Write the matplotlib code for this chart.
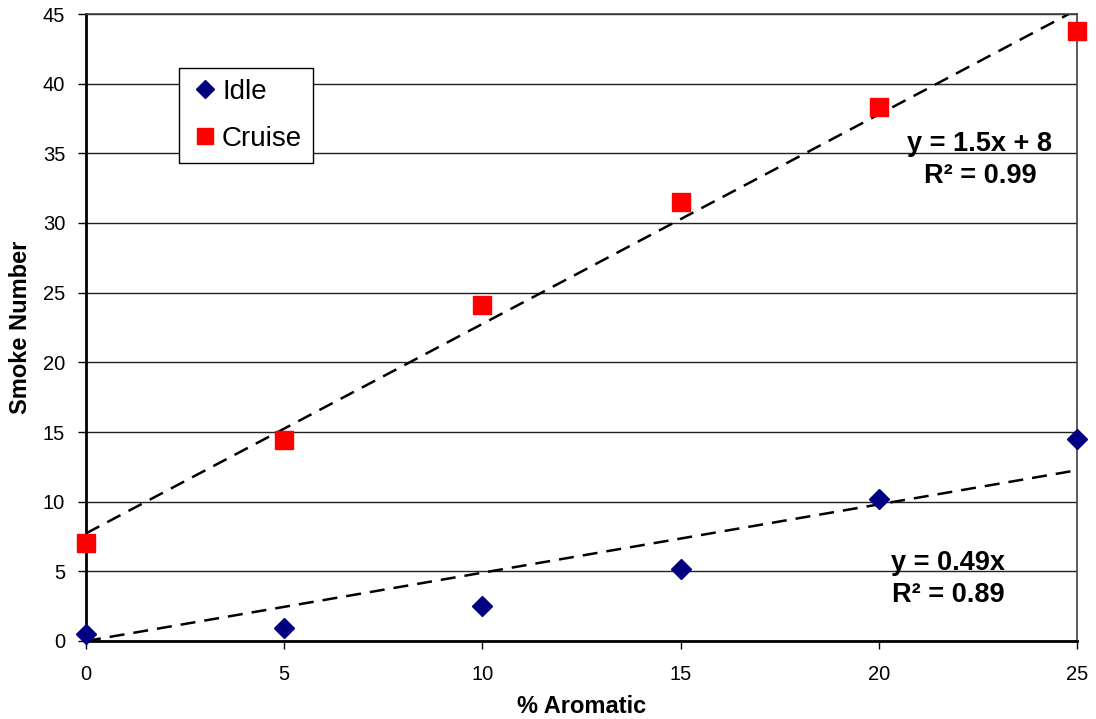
import numpy as np
import matplotlib.pyplot as plt

plt.rcParams['font.family'] = ['Liberation Sans', 'DejaVu Sans']

aromatic = [0, 5, 10, 15, 20, 25]
idle = [0.5, 0.9, 2.5, 5.2, 10.2, 14.5]
cruise = [7.0, 14.4, 24.1, 31.5, 38.3, 43.8]
x_ticks = [0, 5, 10, 15, 20, 25]
y_ticks = [0, 5, 10, 15, 20, 25, 30, 35, 40, 45]

x = np.array(aromatic, dtype=float)
# linear trendlines (cruise with intercept, idle through origin)
c_slope, c_int = np.polyfit(x, cruise, 1)
i_slope = np.sum(x * np.array(idle)) / np.sum(x * x)

fig = plt.figure(figsize=(10.96, 7.19), dpi=100)
ax = fig.add_axes([86 / 1096, 1 - 641 / 719, 991 / 1096, 627 / 719])

ax.set_xlim(0, 25)
ax.set_ylim(0, 45)
ax.set_xticks(x_ticks)
ax.set_yticks(y_ticks)
ax.grid(axis='y', color='#222222', linewidth=1.0)
ax.set_axisbelow(True)

xs = np.array([0, 25])
ax.plot(xs, c_int + c_slope * xs, color='black', linewidth=1.8, dashes=(6, 3.6), zorder=2)
ax.plot(xs, i_slope * xs, color='black', linewidth=1.8, dashes=(6, 3.6), zorder=2)

ax.plot(aromatic, idle, linestyle='none', marker='D', markersize=10, color='#000080',
        label='Idle', clip_on=False, zorder=3)
ax.plot(aromatic, cruise, linestyle='none', marker='s', markersize=13, color='#ff0000',
        label='Cruise', clip_on=False, zorder=3)

ax.text(22.55, 34.55, 'y = 1.5x + 8\nR² = 0.99', ha='center', va='center',
        fontsize=19.5, fontweight='bold', linespacing=1.3)
ax.text(21.75, 4.45, 'y = 0.49x\nR² = 0.89', ha='center', va='center',
        fontsize=19.5, fontweight='bold', linespacing=1.3)

for side in ['left', 'bottom']:
    ax.spines[side].set_linewidth(2)
    ax.spines[side].set_color('black')
for side in ['right', 'top']:
    ax.spines[side].set_linewidth(1.2)
    ax.spines[side].set_color('#404040')

ax.tick_params(direction='out', length=6, width=1, labelsize=14.5)
ax.tick_params(axis='x', pad=11)
ax.tick_params(axis='y', pad=9)
ax.set_xlabel('% Aromatic', fontsize=17, fontweight='bold', labelpad=8)
ax.set_ylabel('Smoke Number', fontsize=17, fontweight='bold', labelpad=8)

leg = fig.legend(loc='upper left', bbox_to_anchor=(179 / 1096, 1 - 68 / 719),
                 fontsize=20, frameon=True, fancybox=False, framealpha=1,
                 edgecolor='black', handlelength=1.1, handletextpad=0.05,
                 labelspacing=0.75, borderpad=0.4, borderaxespad=0,
                 markerscale=0.9)
leg.get_frame().set_linewidth(1.0)

fig.savefig('out.png', dpi=100)
